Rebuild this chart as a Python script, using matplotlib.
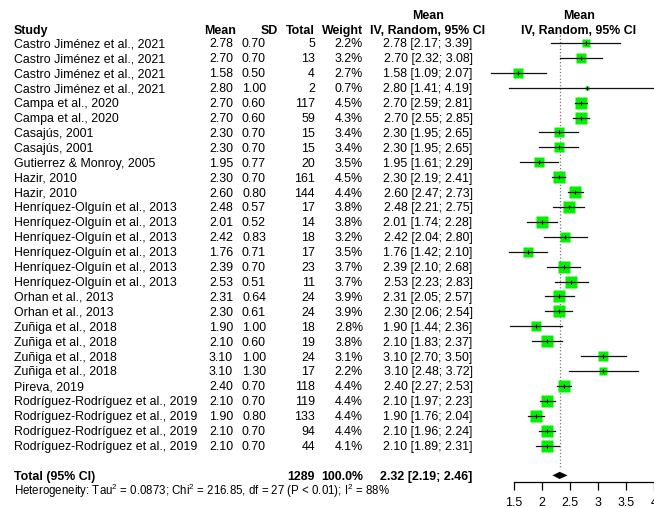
import numpy as np
import matplotlib
matplotlib.use("Agg")
import matplotlib.pyplot as plt

plt.rcParams['font.family'] = ['Liberation Sans', 'DejaVu Sans']

# study-level data (mean, SD, n, random-effects weight, 95% CI)
studies = [
    "Castro Jiménez et al., 2021", "Castro Jiménez et al., 2021",
    "Castro Jiménez et al., 2021", "Castro Jiménez et al., 2021",
    "Campa et al., 2020", "Campa et al., 2020",
    "Casajús, 2001", "Casajús, 2001",
    "Gutierrez & Monroy, 2005",
    "Hazir, 2010", "Hazir, 2010",
    "Henríquez-Olguín et al., 2013", "Henríquez-Olguín et al., 2013",
    "Henríquez-Olguín et al., 2013", "Henríquez-Olguín et al., 2013",
    "Henríquez-Olguín et al., 2013", "Henríquez-Olguín et al., 2013",
    "Orhan et al., 2013", "Orhan et al., 2013",
    "Zuñiga et al., 2018", "Zuñiga et al., 2018",
    "Zuñiga et al., 2018", "Zuñiga et al., 2018",
    "Pireva, 2019",
    "Rodríguez-Rodríguez et al., 2019", "Rodríguez-Rodríguez et al., 2019",
    "Rodríguez-Rodríguez et al., 2019", "Rodríguez-Rodríguez et al., 2019",
]
means = [2.78, 2.70, 1.58, 2.80, 2.70, 2.70, 2.30, 2.30, 1.95, 2.30, 2.60,
         2.48, 2.01, 2.42, 1.76, 2.39, 2.53, 2.31, 2.30, 1.90, 2.10, 3.10,
         3.10, 2.40, 2.10, 1.90, 2.10, 2.10]
sds = [0.70, 0.70, 0.50, 1.00, 0.60, 0.60, 0.70, 0.70, 0.77, 0.70, 0.80,
       0.57, 0.52, 0.83, 0.71, 0.70, 0.51, 0.64, 0.61, 1.00, 0.60, 1.00,
       1.30, 0.70, 0.70, 0.80, 0.70, 0.70]
totals = [5, 13, 4, 2, 117, 59, 15, 15, 20, 161, 144, 17, 14, 18, 17, 23,
          11, 24, 24, 18, 19, 24, 17, 118, 119, 133, 94, 44]
weights = [2.2, 3.2, 2.7, 0.7, 4.5, 4.3, 3.4, 3.4, 3.5, 4.5, 4.4, 3.8, 3.8,
           3.2, 3.5, 3.7, 3.7, 3.9, 3.9, 2.8, 3.8, 3.1, 2.2, 4.4, 4.4, 4.4,
           4.4, 4.1]
ci_lo = [2.17, 2.32, 1.09, 1.41, 2.59, 2.55, 1.95, 1.95, 1.61, 2.19, 2.47,
         2.21, 1.74, 2.04, 1.42, 2.10, 2.23, 2.05, 2.06, 1.44, 1.83, 2.70,
         2.48, 2.27, 1.97, 1.76, 1.96, 1.89]
ci_hi = [3.39, 3.08, 2.07, 4.19, 2.81, 2.85, 2.65, 2.65, 2.29, 2.41, 2.73,
         2.75, 2.28, 2.80, 2.10, 2.68, 2.83, 2.57, 2.54, 2.36, 2.37, 3.50,
         3.72, 2.53, 2.23, 2.04, 2.24, 2.31]

pooled_mean, pooled_lo, pooled_hi = 2.32, 2.19, 2.46
pooled_total = 1289
pooled_weight = 100.0
het_text = ("Heterogeneity: Tau$\\mathregular{^2}$ = 0.0873; "
            "Chi$\\mathregular{^2}$ = 216.85, df = 27 (P < 0.01); "
            "I$\\mathregular{^2}$ = 88%")
xticks = [1.5, 2, 2.5, 3, 3.5, 4]

W, H = 654, 508
fig = plt.figure(figsize=(W / 100, H / 100), dpi=100)

# vertical layout in row units: row i sits at pixel row0 + i*step
row0, step = 43.0, 14.91
y_top, y_bot = (0 - row0) / step, (H - row0) / step
n = len(studies)
total_row = n + 1
fs = 8.9
base = 0.3  # baseline offset so caps are centred on the row

tab = fig.add_axes([0, 0, 1, 1])
tab.set_xlim(0, W)
tab.set_ylim(y_bot, y_top)
tab.axis('off')

def put(x, y, s, ha='right', bold=False, size=fs):
    tab.text(x, y + base, s, ha=ha, va='baseline', fontsize=size,
             fontweight='bold' if bold else 'normal')

# column headers
put(14, -0.93, "Study", ha='left', bold=True)
put(236, -0.93, "Mean", bold=True)
put(278, -0.93, "SD", bold=True)
put(315, -0.93, "Total", bold=True)
put(363, -0.93, "Weight", bold=True)
put(428, -1.93, "Mean", ha='center', bold=True)
put(428, -0.93, "IV, Random, 95% CI", ha='center', bold=True)
put(579, -1.93, "Mean", ha='center', bold=True)
put(579, -0.93, "IV, Random, 95% CI", ha='center', bold=True)

for i in range(n):
    put(14, i, studies[i], ha='left')
    put(233, i, f"{means[i]:.2f}")
    put(266, i, f"{sds[i]:.2f}")
    put(315, i, str(totals[i]))
    put(363, i, f"{weights[i]:.1f}%")
    put(472.5, i, f"{means[i]:.2f} [{ci_lo[i]:.2f}; {ci_hi[i]:.2f}]")

put(14, total_row, "Total (95% CI)", ha='left', bold=True)
put(315, total_row, str(pooled_total), bold=True)
put(363, total_row, f"{pooled_weight:.1f}%", bold=True)
put(472.5, total_row,
    f"{pooled_mean:.2f} [{pooled_lo:.2f}; {pooled_hi:.2f}]", bold=True)
put(14, total_row + 1.0, het_text, ha='left', size=8.3)

# forest panel: 1.5 at x=514.3px, 57px per unit
x_ref, px_unit = 514.3, 57.0
left_px = 470
ax = fig.add_axes([left_px / W, 0, (W - left_px) / W, 1])
ax.set_xlim(1.5 + (left_px - x_ref) / px_unit, 1.5 + (W - x_ref) / px_unit)
ax.set_ylim(y_bot, y_top)
ax.patch.set_visible(False)
for side in ['top', 'left', 'right']:
    ax.spines[side].set_visible(False)
ax.spines['bottom'].set_position(('data', total_row + 0.45))
ax.spines['bottom'].set_bounds(xticks[0], xticks[-1])
ax.spines['bottom'].set_linewidth(0.9)
ax.set_yticks([])
ax.set_xticks(xticks)
ax.set_xticklabels([f"{t:g}" for t in xticks])
ax.tick_params(axis='x', direction='out', length=5.5, width=0.9, pad=5.5,
               labelsize=fs)

ax.plot([pooled_mean, pooled_mean], [-0.55, total_row - 0.4], ls=':',
        color='#777777', lw=0.9)

green = '#00F000'
for i in range(n):
    side_pt = 5.8 * np.sqrt(weights[i]) * 0.72
    ax.plot(means[i], i, 's', color=green, ms=side_pt, mec='none')
    ax.plot([ci_lo[i], ci_hi[i]], [i, i], color='#111111', lw=0.9)
    ax.plot(means[i], i, '|', color='k', ms=3, mew=0.8)

ax.fill([pooled_lo, pooled_mean, pooled_hi, pooled_mean],
        [total_row, total_row - 0.24, total_row, total_row + 0.24],
        color='k', lw=0)

fig.savefig("out.png", dpi=100)
